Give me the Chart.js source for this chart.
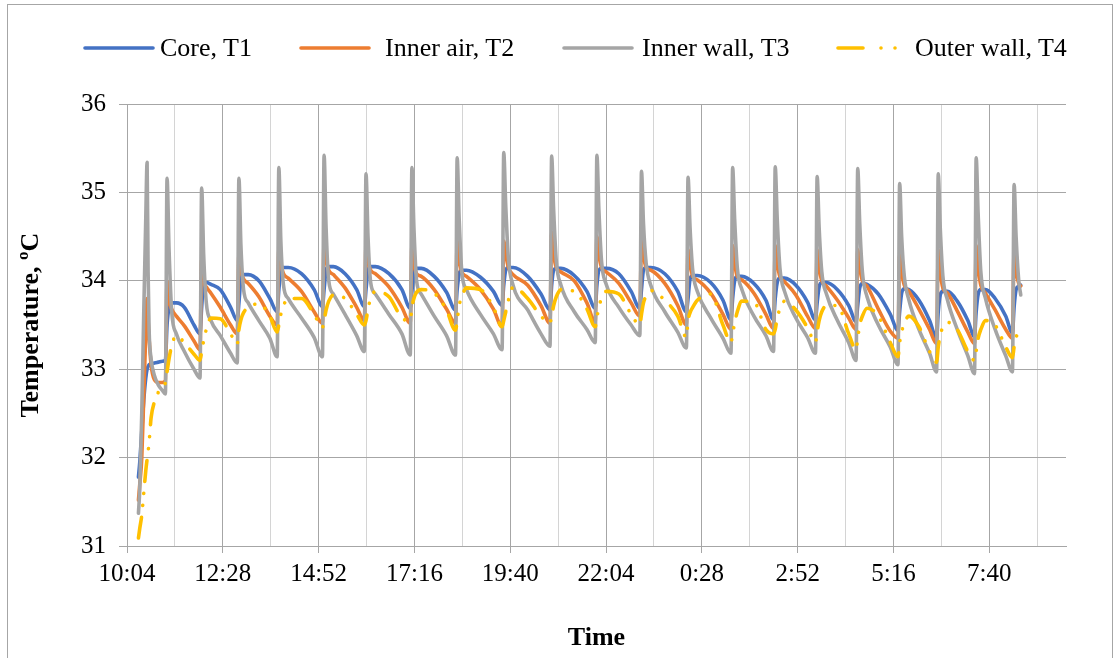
<!DOCTYPE html>
<html>
<head>
<meta charset="utf-8">
<script src="https://cdn.jsdelivr.net/npm/chart.js@4"></script>
<style>
html,body{margin:0;padding:0;background:#fff;}
#wrap{position:relative;width:1119px;height:658px;overflow:hidden;font-family:"Liberation Serif","Times New Roman",serif;}
#frame{position:absolute;left:7px;top:4px;width:1106px;height:720px;border:1px solid #a6a6a6;box-sizing:border-box;}
#c{position:absolute;left:0;top:0;}
#legend{position:absolute;left:0;top:0;width:1119px;height:90px;}
.sym{position:absolute;top:32px;width:70px;height:32px;}
.txt{position:absolute;top:32px;height:32px;line-height:32px;font-size:26px;color:#000;white-space:nowrap;}
</style>
</head>
<body>
<div id="wrap">
  <div id="frame"></div>
  <canvas id="c" width="1119" height="658"></canvas>
  <div id="legend"></div>
</div>
<script>
// ---- time of each sample, minutes after midnight of the first day ----
const timeMin = [
  622,624,627,630,633,635,636.5,638,641,646,652,658,662.5,
  665,668,672,679,691,705.5,714.5,
  717,720,724,731,745,760.5,770.5,
  773,776,780,787,803,819.5,830.5,
  833,836,840,847,867,886,898.5,
  901,904,908,915,932.5,950,961.5,
  964,967,971,978,998.5,1018,1030.5,
  1033,1036,1040,1047,1066.5,1085,1098.5,
  1101,1104,1108,1115,1136,1155.5,1168.5,
  1171,1174,1178,1185,1207,1227,1240.5,
  1243,1246,1250,1257,1277,1296,1308.5,
  1311,1314,1318,1325,1344,1362.5,1375.5,
  1378,1381,1385,1392,1413,1432.5,1445.5,
  1448,1451,1455,1462,1482,1500.5,1512.5,
  1515,1518,1522,1529,1547,1565,1576.5,
  1579,1582,1586,1593,1610,1627.5,1639.5,
  1642,1645,1649,1656,1672.5,1689.5,1700.5,
  1703,1706,1710,1717,1734,1752,1763.5,
  1766,1769,1773,1780,1795,1811,1821.5,
  1824,1827,1831,1838,1852.5,1868.5,1878.5,
  1881,1884,1888,1895,1909.5,1925.5,1935.5,
  1938,1941,1945,1948
];

// ---- Core, T1 (°C) ----
const coreT1 = [
  31.78,31.95,32.3,32.65,32.9,33.0,33.03,33.05,33.06,33.07,33.08,33.09,33.1,
  33.5,33.7,33.75,33.75,33.7,33.5,33.4,
  33.7,33.98,33.98,33.96,33.9,33.7,33.55,
  33.75,34.02,34.07,34.07,34.0,33.8,33.65,
  33.9,34.1,34.15,34.15,34.08,33.9,33.71,
  33.9,34.12,34.16,34.16,34.08,33.9,33.71,
  33.9,34.12,34.16,34.16,34.08,33.9,33.69,
  33.88,34.1,34.14,34.14,34.05,33.87,33.67,
  33.9,34.08,34.12,34.12,34.04,33.88,33.72,
  33.95,34.12,34.15,34.15,34.05,33.85,33.67,
  33.95,34.12,34.14,34.14,34.06,33.88,33.69,
  33.95,34.12,34.14,34.14,34.08,33.88,33.69,
  33.9,34.12,34.15,34.15,34.08,33.88,33.65,
  33.8,34.02,34.06,34.06,33.98,33.78,33.56,
  33.8,34.0,34.05,34.05,33.97,33.78,33.56,
  33.8,33.98,34.03,34.03,33.95,33.76,33.56,
  33.75,33.93,33.98,33.98,33.9,33.72,33.54,
  33.72,33.92,33.97,33.96,33.85,33.62,33.44,
  33.65,33.86,33.91,33.9,33.78,33.55,33.35,
  33.65,33.84,33.88,33.88,33.77,33.55,33.37,
  33.65,33.85,33.9,33.9,33.8,33.6,33.41,
  33.7,33.9,33.94,33.95
];

// ---- Inner air, T2 (°C) ----
const innerAirT2 = [
  31.52,31.7,32.0,32.7,33.4,33.8,33.55,33.35,33.05,32.88,32.85,32.85,32.87,
  34.0,33.78,33.68,33.6,33.49,33.32,33.22,
  34.25,34.0,33.93,33.86,33.7,33.5,33.4,
  34.3,34.12,34.02,33.97,33.82,33.6,33.5,
  34.35,34.2,34.08,34.03,33.88,33.65,33.52,
  34.45,34.25,34.12,34.07,33.92,33.7,33.55,
  34.4,34.22,34.12,34.08,33.93,33.7,33.52,
  34.4,34.2,34.08,34.05,33.9,33.68,33.52,
  34.45,34.25,34.1,34.05,33.9,33.68,33.48,
  34.45,34.3,34.15,34.07,33.95,33.72,33.52,
  34.55,34.3,34.15,34.1,34.0,33.75,33.53,
  34.5,34.3,34.15,34.1,33.97,33.75,33.6,
  34.45,34.28,34.15,34.12,33.97,33.72,33.5,
  34.35,34.2,34.05,34.01,33.86,33.62,33.45,
  34.4,34.2,34.05,34.01,33.86,33.62,33.46,
  34.4,34.2,34.05,33.99,33.84,33.6,33.46,
  34.35,34.15,34.0,33.94,33.78,33.58,33.45,
  34.35,34.15,34.0,33.94,33.68,33.43,33.35,
  34.3,34.1,33.95,33.88,33.68,33.45,33.29,
  34.35,34.1,33.92,33.86,33.66,33.42,33.29,
  34.4,34.15,33.95,33.86,33.67,33.45,33.35,
  34.35,34.1,33.97,33.94
];

// ---- Inner wall, T3 (°C) ----
const innerWallT3 = [
  31.37,31.65,32.5,33.65,34.7,35.34,34.1,33.45,33.12,32.93,32.82,32.76,32.72,
  35.16,34.35,33.65,33.4,33.2,33.0,32.9,
  35.05,34.3,33.75,33.55,33.38,33.18,33.07,
  35.16,34.4,33.9,33.75,33.55,33.35,33.14,
  35.28,34.45,33.95,33.8,33.58,33.36,33.14,
  35.42,34.6,34.0,33.85,33.62,33.38,33.2,
  35.21,34.5,33.98,33.85,33.62,33.4,33.16,
  35.28,34.6,34.0,33.85,33.6,33.38,33.16,
  35.39,34.7,34.1,33.9,33.62,33.4,33.22,
  35.45,34.85,34.25,33.95,33.67,33.4,33.26,
  35.41,34.8,34.22,33.95,33.65,33.45,33.3,
  35.42,34.8,34.22,33.96,33.7,33.5,33.38,
  35.24,34.65,34.2,33.95,33.65,33.42,33.24,
  35.17,34.6,34.12,33.88,33.58,33.35,33.18,
  35.28,34.7,34.15,33.9,33.6,33.38,33.2,
  35.29,34.7,34.15,33.88,33.58,33.36,33.18,
  35.18,34.6,34.1,33.85,33.55,33.3,33.1,
  35.27,34.65,34.1,33.82,33.5,33.25,33.05,
  35.10,34.5,34.05,33.78,33.45,33.18,32.97,
  35.21,34.6,34.05,33.78,33.45,33.15,32.95,
  35.39,34.75,34.1,33.8,33.45,33.15,32.97,
  35.09,34.5,34.0,33.84
];

// ---- Outer wall, T4 (°C) ----
const outerWallT4 = [
  31.09,31.2,31.35,31.6,31.85,31.98,32.07,32.17,32.45,32.63,32.74,32.78,32.85,
  32.97,33.12,33.27,33.38,33.3,33.17,33.1,
  33.2,33.32,33.45,33.58,33.57,33.4,33.28,
  33.45,33.56,33.64,33.7,33.74,33.6,33.42,
  33.5,33.62,33.72,33.8,33.8,33.62,33.47,
  33.55,33.67,33.77,33.84,33.8,33.62,33.5,
  33.55,33.68,33.8,33.88,33.82,33.58,33.55,
  33.7,33.8,33.87,33.9,33.86,33.67,33.44,
  33.55,33.72,33.82,33.92,33.9,33.7,33.48,
  33.55,33.65,33.78,33.93,33.8,33.6,33.52,
  33.6,33.72,33.82,33.9,33.88,33.68,33.48,
  33.58,33.7,33.8,33.88,33.85,33.62,33.5,
  33.62,33.75,33.83,33.89,33.78,33.6,33.36,
  33.55,33.64,33.7,33.78,33.85,33.5,33.3,
  33.4,33.52,33.65,33.77,33.76,33.45,33.4,
  33.45,33.58,33.68,33.77,33.67,33.47,33.3,
  33.42,33.55,33.65,33.72,33.72,33.4,33.22,
  33.35,33.5,33.6,33.69,33.6,33.3,33.14,
  33.3,33.42,33.52,33.6,33.48,33.2,33.08,
  33.25,33.38,33.48,33.53,33.45,33.2,33.1,
  33.2,33.35,33.45,33.55,33.5,33.25,33.13,
  33.25,33.35,33.47,33.5
];

// ---- axis definitions ----
const timeTickLabels = ['10:04','12:28','14:52','17:16','19:40','22:04','0:28','2:52','5:16','7:40'];
const xMinMin = 604.8;     // 10:04.8
const xMaxMin = 2016;      // 9:36 next day
const gridStepMin = 72;    // minor gridline every 1:12, labels every 2:24
const tempMin = 31, tempMax = 36, tempStep = 1;

const seriesNames = ['Core, T1','Inner air, T2','Inner wall, T3','Outer wall, T4'];
const seriesColors = ['#4472C4','#ED7D31','#A5A5A5','#FFC000'];

const toXY = vals => vals.map((v, i) => ({x: timeMin[i], y: v}));
const serif = '"Liberation Serif","Times New Roman",serif';
const majorGrid = '#a6a6a6', minorGrid = '#d4d4d4';
const yellowDash = [21, 12, 0.01, 12, 0.01, 12];

const chart = new Chart(document.getElementById('c'), {
  type: 'line',
  data: {
    datasets: [
      {label: seriesNames[0], data: toXY(coreT1), borderColor: seriesColors[0], order: 4},
      {label: seriesNames[1], data: toXY(innerAirT2), borderColor: seriesColors[1], order: 3},
      {label: seriesNames[2], data: toXY(innerWallT3), borderColor: seriesColors[2], order: 2},
      {label: seriesNames[3], data: toXY(outerWallT4), borderColor: seriesColors[3], order: 1,
       borderDash: yellowDash, borderCapStyle: 'round'}
    ]
  },
  options: {
    responsive: false,
    animation: false,
    events: [],
    elements: {
      point: {radius: 0},
      line: {borderWidth: 3.6, cubicInterpolationMode: 'monotone', fill: false,
             borderJoinStyle: 'round', borderCapStyle: 'round'}
    },
    layout: {padding: {top: 104, left: 8, right: 53, bottom: 0}},
    plugins: {legend: {display: false}, tooltip: {enabled: false}},
    scales: {
      x: {
        type: 'linear', min: xMinMin, max: xMaxMin,
        afterBuildTicks: s => {
          const t = [];
          for (let v = xMinMin; v < xMaxMin - 1; v += gridStepMin) t.push({value: v});
          s.ticks = t;
        },
        afterFit: s => { s.height = 112; },
        grid: {
          color: c => (c.index % 2 === 0 ? majorGrid : minorGrid),
          tickColor: c => (c.index % 2 === 0 ? majorGrid : 'rgba(0,0,0,0)'),
          tickLength: 7, lineWidth: 1
        },
        border: {color: majorGrid, width: 1},
        ticks: {
          autoSkip: false, maxRotation: 0, minRotation: 0, padding: 6, color: '#000',
          font: {family: serif, size: 25},
          callback: (v, i) => (i % 2 === 0 ? (timeTickLabels[i / 2] || '') : '')
        },
        title: {display: true, text: 'Time', color: '#000',
                font: {family: serif, size: 26, weight: 'bold'}, padding: {top: 0, bottom: 4}}
      },
      y: {
        min: tempMin, max: tempMax,
        afterFit: s => { s.width = 119; },
        grid: {color: majorGrid, tickColor: majorGrid, tickLength: 8, lineWidth: 1},
        border: {color: majorGrid, width: 1},
        ticks: {stepSize: tempStep, padding: 13, color: '#000', font: {family: serif, size: 25}},
        title: {display: true, text: 'Temperature, ºC', color: '#000',
                font: {family: serif, size: 26, weight: 'bold'}, padding: {top: 8, bottom: 0}}
      }
    }
  }
});

// ---- HTML legend built from the chart's datasets ----
const legendPos = [[85,160],[301,385],[564,642],[838,915]];
const legend = document.getElementById('legend');
chart.data.datasets.forEach((ds, i) => {
  const [sx, tx] = legendPos[i];
  const dash = ds.borderDash ? 'stroke-dasharray="25 18 0.01 14 0.01 40"' : '';
  const sym = document.createElement('div');
  sym.className = 'sym';
  sym.style.left = (sx - 2) + 'px';
  sym.innerHTML = '<svg width="72" height="32"><line x1="2" y1="16" x2="70" y2="16" stroke="' +
    ds.borderColor + '" stroke-width="3.6" stroke-linecap="round" ' + dash + '/></svg>';
  legend.appendChild(sym);
  const t = document.createElement('div');
  t.className = 'txt';
  t.style.left = tx + 'px';
  t.textContent = ds.label;
  legend.appendChild(t);
});
</script>
</body>
</html>
